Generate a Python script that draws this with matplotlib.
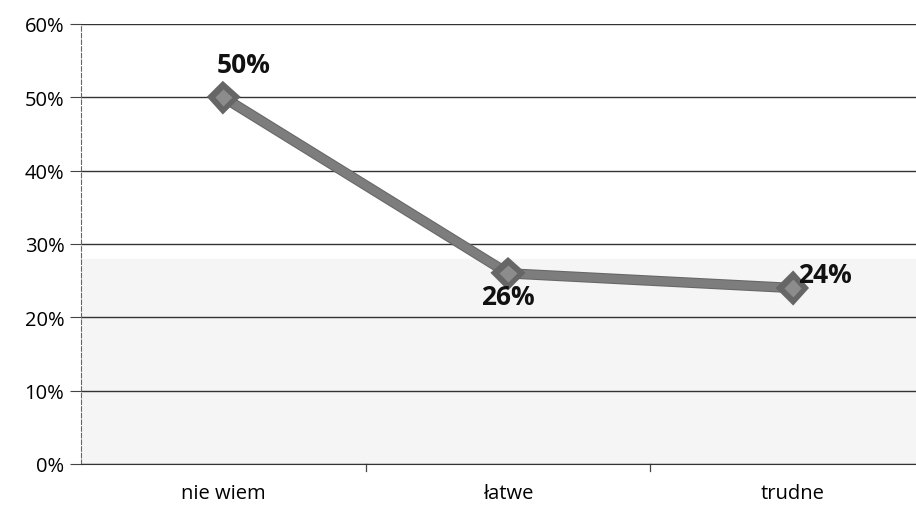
import matplotlib
matplotlib.use("Agg")
import matplotlib.pyplot as plt
from matplotlib.ticker import PercentFormatter
import matplotlib.patheffects as pe

categories = ["nie wiem", "łatwe", "trudne"]
values = [50, 26, 24]
labels = ["50%", "26%", "24%"]

plt.rcParams['font.family'] = ['Open Sans', 'DejaVu Sans']

fig = plt.figure(figsize=(9.16, 5.10), dpi=100)
ax = fig.add_axes([81/916, 1-465/510, 854/916, 440/510])

x = list(range(len(categories)))
ax.plot(x, values, color="#7d7d7d", lw=6, marker="D", markersize=10,
        markerfacecolor="#8c8c8c", markeredgecolor="#666666", markeredgewidth=1.0,
        path_effects=[pe.Stroke(linewidth=7.5, foreground="#666666"), pe.Normal()],
        zorder=3)

offsets = [(0.07, 2.6, "center", "bottom"), (0.0, -1.3, "center", "top"), (0.02, 1.8, "left", "center")]
for xi, v, lab, (dx, dy, ha, va) in zip(x, values, labels, offsets):
    ax.text(xi + dx, v + dy, lab, ha=ha, va=va, fontsize=19, fontweight="bold", color="#111111", zorder=4)

ax.axhspan(0, 28, color="#f5f5f5", zorder=0)

ax.set_xlim(-0.5, 2.5)
ax.set_ylim(0, 60)
ax.set_yticks(range(0, 61, 10))
ax.yaxis.set_major_formatter(PercentFormatter(decimals=0))
ax.set_xticks(x)
ax.set_xticklabels(categories)
ax.grid(axis="y", color="#333333", lw=1.0, linestyle="-")
ax.set_axisbelow(True)
for s in ["top", "right"]:
    ax.spines[s].set_visible(False)
ax.spines["left"].set_color("#666666")
ax.spines["left"].set_linestyle((0, (4, 2)))
ax.spines["bottom"].set_color("#333333")
ax.tick_params(axis="y", length=8, color="#444444", labelsize=14.5, pad=4, direction="out")
ax.tick_params(axis="x", length=0, labelsize=14.5, pad=14)
for v in [0.5, 1.5]:
    ax.plot([v, v], [0, -0.9], color="#444444", lw=0.9, clip_on=False)
ax.patch.set_alpha(0)

fig.savefig("out.png", dpi=100)
